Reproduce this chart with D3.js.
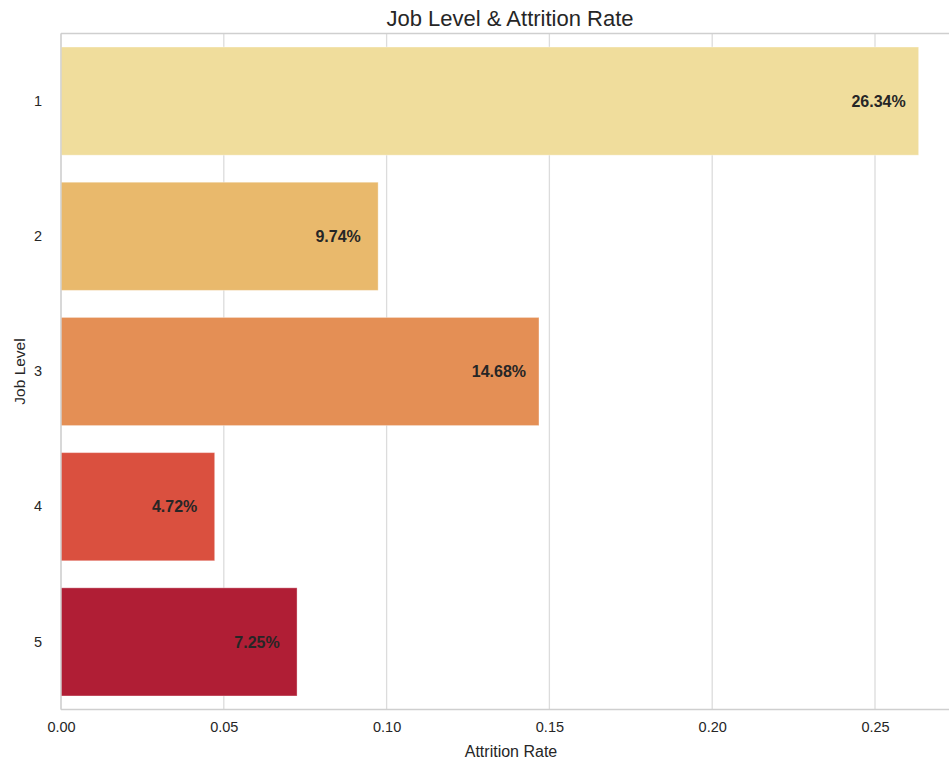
<!DOCTYPE html>
<html>
<head>
<meta charset="utf-8">
<script src="https://cdn.jsdelivr.net/npm/d3@7"></script>
<style>
  html, body { margin: 0; padding: 0; background: #fff; }
  svg { display: block; font-family: "Liberation Sans", Arial, sans-serif; }
</style>
</head>
<body>
<svg id="chart" width="949" height="761"></svg>
<script>
// Attrition rate by job level
const jobLevels = ["1", "2", "3", "4", "5"];
const attritionRates = [0.2634, 0.0974, 0.1468, 0.0472, 0.0725];
const barColors = ["#f0dd9c", "#e9b96c", "#e48f55", "#da503f", "#b01e35"];
const xTicks = [0, 0.05, 0.10, 0.15, 0.20, 0.25];

(function () {
const svg = d3.select("#chart");
const W = 949;
const plotLeft = 61, plotTop = 33.5, plotBottom = 709.5;
const pxPerUnit = (875 - 61) / 0.25;
const xMax = 0.2766;

const x = d3.scaleLinear().domain([0, xMax]).range([plotLeft, plotLeft + xMax * pxPerUnit]);
const y = d3.scaleBand().domain(jobLevels).range([plotTop, plotBottom]).paddingInner(0.2).paddingOuter(0.1);

// grid lines
svg.append("g").selectAll("line").data(xTicks).join("line")
  .attr("x1", d => x(d)).attr("x2", d => x(d))
  .attr("y1", plotTop).attr("y2", plotBottom)
  .attr("stroke", "#dcdcdc").attr("stroke-width", 1.3);

// bars
svg.append("g").selectAll("rect").data(jobLevels).join("rect")
  .attr("x", x(0))
  .attr("y", d => y(d))
  .attr("width", (d, i) => x(attritionRates[i]) - x(0))
  .attr("height", y.bandwidth())
  .attr("fill", (d, i) => barColors[i])
  .attr("stroke", "#ffffff").attr("stroke-opacity", 0.35).attr("stroke-width", 1);

// spines
const spine = svg.append("g").attr("stroke", "#cfcfcf").attr("stroke-width", 1.3);
spine.append("line").attr("x1", plotLeft).attr("x2", W + 5).attr("y1", plotTop).attr("y2", plotTop);
spine.append("line").attr("x1", plotLeft).attr("x2", W + 5).attr("y1", plotBottom).attr("y2", plotBottom);
spine.append("line").attr("x1", plotLeft).attr("x2", plotLeft).attr("y1", plotTop).attr("y2", plotBottom);

// value labels
svg.append("g").selectAll("text").data(jobLevels).join("text")
  .attr("x", (d, i) => x(attritionRates[i] - 0.0123))
  .attr("y", d => y(d) + y.bandwidth() / 2)
  .attr("dy", "0.35em")
  .attr("text-anchor", "middle")
  .attr("font-size", 16).attr("font-weight", "bold").attr("fill", "#262626")
  .text((d, i) => (attritionRates[i] * 100).toFixed(2) + "%");

// x axis
const xAxis = svg.append("g").attr("transform", `translate(0,${plotBottom})`)
  .call(d3.axisBottom(x).tickValues(xTicks).tickFormat(d3.format(".2f")).tickSize(0).tickPadding(12));
xAxis.select(".domain").remove();
xAxis.selectAll("text").attr("font-size", 14.5).attr("fill", "#262626").attr("font-family", "Liberation Sans, Arial, sans-serif");

// y axis
const yAxis = svg.append("g").attr("transform", `translate(${plotLeft},0)`)
  .call(d3.axisLeft(y).tickSize(0).tickPadding(19));
yAxis.select(".domain").remove();
yAxis.selectAll("text").attr("font-size", 14.5).attr("fill", "#262626").attr("font-family", "Liberation Sans, Arial, sans-serif");

// titles
svg.append("text").attr("x", 510).attr("y", 26).attr("text-anchor", "middle")
  .attr("font-size", 22).attr("fill", "#262626").text("Job Level & Attrition Rate");
svg.append("text").attr("x", 511).attr("y", 757).attr("text-anchor", "middle")
  .attr("font-size", 16).attr("fill", "#262626").text("Attrition Rate");
svg.append("text").attr("transform", `translate(25,${(plotTop + plotBottom) / 2}) rotate(-90)`)
  .attr("text-anchor", "middle").attr("font-size", 15.5).attr("fill", "#262626").text("Job Level");
})();
</script>
</body>
</html>
